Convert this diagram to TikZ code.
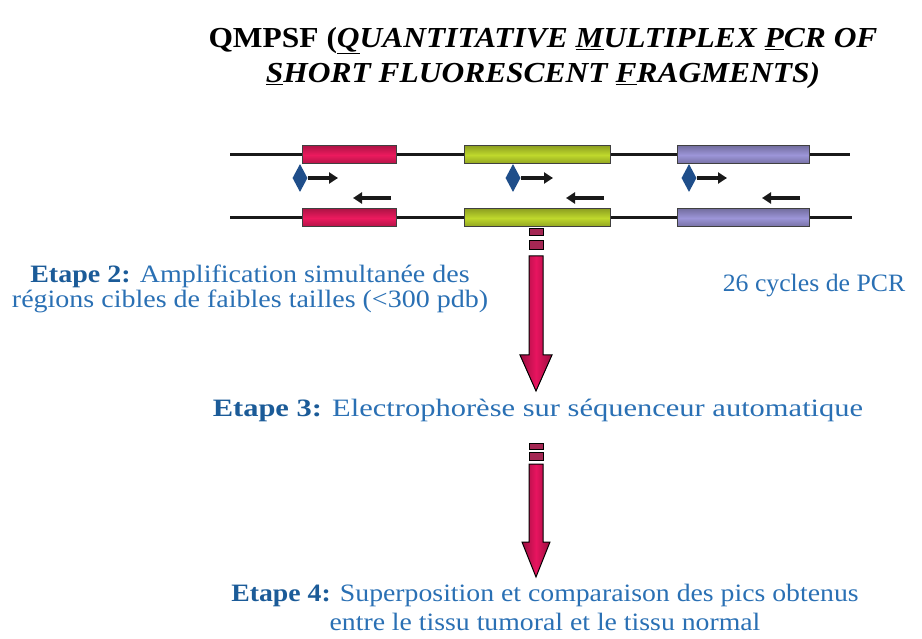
\documentclass[tikz,border=0pt]{standalone}
\usepackage{fontspec}
\setmainfont{Liberation Serif}
\usetikzlibrary{shapes.geometric}
\usetikzlibrary{arrows.meta}
\usetikzlibrary{positioning}
\usetikzlibrary{calc}
\definecolor{txtblue}{HTML}{2A70B4}
\definecolor{etpblue}{HTML}{1B5B98}
\definecolor{exonpink}{HTML}{EC1A5E}
\definecolor{exongreen}{HTML}{BFD82C}
\definecolor{exonpurple}{HTML}{9C95D8}
\definecolor{primer}{HTML}{1F4E8A}
\definecolor{bigred}{HTML}{E8145F}
\definecolor{darkred}{HTML}{9A0F40}
\newcommand{\etape}[1]{{\bfseries\color{etpblue}Etape #1:}}

\begin{document}
\begin{tikzpicture}[
  x=1pt,y=-1pt,
  strand/.style={line width=3pt,draw=black!90},
  exon/.style 2 args={
    rectangle,
    draw=black!75,
    line width=1pt,
    inner sep=0pt,
    minimum height=18pt,
    minimum width=#2,
    top color=#1!75!black,
    bottom color=#1!75!black,
    middle color=#1},
  primerdot/.style={
    diamond,
    fill=primer,
    inner sep=0pt,
    minimum width=15pt,
    minimum height=28pt},
  primarrow/.style={
    line width=3.8pt,draw=black!90,
    -{Triangle[length=9pt,width=11pt]}},
  bigarrow/.style={
    draw=black,line width=1pt,
    left color=darkred,right color=darkred,middle color=bigred},
  bar/.style={draw=black,line width=1pt,fill=darkred!90},
  txt/.style={text=txtblue,align=center,inner sep=0pt,transform shape},
]
  \useasboundingbox (0,0) rectangle (922,639);

  % Title
  \node[align=center,inner sep=0pt,xscale=1.085,transform shape,
        font=\fontsize{29}{35}\selectfont\bfseries] (title) at (543,58)
    {QMPSF (\textit{\underline{Q}UANTITATIVE \underline{M}ULTIPLEX \underline{P}CR OF}\\
     \textit{\underline{S}HORT FLUORESCENT \underline{F}RAGMENTS)}};

  % DNA strands
  \coordinate (topl) at (230,155);
  \coordinate (topr) at (850,155);
  \coordinate (botl) at (230,218);
  \coordinate (botr) at (852,218);
  \draw[strand] (topl) -- (topr);
  \draw[strand] (botl) -- (botr);

  % Target exons and primers
  \foreach \a/\b/\col/\n in {302/396/exonpink/1, 464/610/exongreen/2, 677/809/exonpurple/3} {
    \node[exon={\col}{(\b-\a)*1pt}] (up\n) at ({(\a+\b)/2},155) {};
    \node[exon={\col}{(\b-\a)*1pt}] (lo\n) at ({(\a+\b)/2},218) {};
  }
  \foreach \d/\f/\r/\n in {300/338/391/1, 513/553/604/2, 689/727/800/3} {
    \node[primerdot] (fam\n) at (\d,178) {};
    \coordinate (fwd\n) at (\f,178);
    \coordinate (revs\n) at (\r,198);
    \coordinate (reve\n) at (\r-38,198);
    \draw[primarrow] (fam\n.east) -- (fwd\n);
    \draw[primarrow] (revs\n) -- (reve\n);
  }

  % Big arrows
  \foreach \ya/\yb/\yc/\yd/\top/\neck/\tip/\hw/\n in
      {229/236/241/250/256/355/391/16/1, 443/449/452/460/464/542/577/14/2} {
    \node[bar,inner sep=0pt,minimum width=14pt,minimum height={(\yb-\ya)*1pt}] (bara\n) at (536,{(\ya+\yb)/2}) {};
    \node[bar,inner sep=0pt,minimum width=14pt,minimum height={(\yd-\yc)*1pt}] (barb\n) at (536,{(\yc+\yd)/2}) {};
    \coordinate (arrtop\n) at (536,\top);
    \coordinate (arrtip\n) at (536,\tip);
    \draw[bigarrow] ($(arrtop\n)+(-7,0)$) -- (529,\neck) -- (536-\hw,\neck)
      -- (arrtip\n) -- (536+\hw,\neck) -- (543,\neck) -- ($(arrtop\n)+(7,0)$) -- cycle;
  }

  % Labels
  \node[txt,xscale=1.12,font=\fontsize{25}{25}\selectfont] (etape2) at (250,289)
    {\etape{2} Amplification simultanée des\\régions cibles de faibles tailles (<300 pdb)};
  \node[txt,xscale=1.03,font=\fontsize{25}{25}\selectfont,anchor=base] (cycles) at (814,292)
    {26 cycles de PCR};
  \node[txt,xscale=1.22,font=\fontsize{25}{25}\selectfont,anchor=base] (etape3) at (538,417)
    {\etape{3} Electrophorèse sur séquenceur automatique};
  \node[txt,xscale=1.11,font=\fontsize{25}{29}\selectfont] (etape4) at (545,607)
    {\etape{4} Superposition et comparaison des pics obtenus\\entre le tissu tumoral et le tissu normal};
\end{tikzpicture}
\end{document}
